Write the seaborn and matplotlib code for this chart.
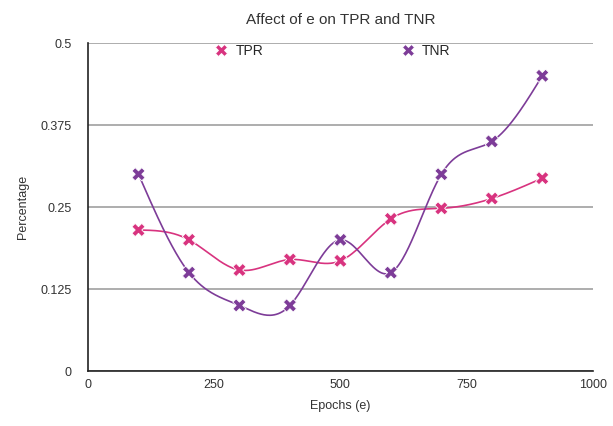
import numpy as np
import pandas as pd
import matplotlib
matplotlib.use("Agg")
import matplotlib.pyplot as plt
import seaborn as sns

epochs = [100, 200, 300, 400, 500, 600, 700, 800, 900]
tpr = [0.215, 0.200, 0.154, 0.170, 0.168, 0.232, 0.248, 0.263, 0.294]
tnr = [0.300, 0.150, 0.100, 0.100, 0.200, 0.150, 0.300, 0.350, 0.450]
series_names = ["TPR", "TNR"]
colors = {"TPR": "#d8337f", "TNR": "#7d3c98"}
x_ticks = [0, 250, 500, 750, 1000]
y_ticks = [0, 0.125, 0.25, 0.375, 0.5]
y_tick_labels = ["0", "0.125", "0.25", "0.375", "0.5"]


def natural_spline(x, y, n=400):
    x = np.asarray(x, float)
    y = np.asarray(y, float)
    k = len(x)
    h = np.diff(x)
    A = np.zeros((k, k))
    b = np.zeros(k)
    A[0, 0] = 1
    A[-1, -1] = 1
    for i in range(1, k - 1):
        A[i, i - 1] = h[i - 1]
        A[i, i] = 2 * (h[i - 1] + h[i])
        A[i, i + 1] = h[i]
        b[i] = 3 * ((y[i + 1] - y[i]) / h[i] - (y[i] - y[i - 1]) / h[i - 1])
    c = np.linalg.solve(A, b)
    xs = np.linspace(x[0], x[-1], n)
    ys = np.empty_like(xs)
    for j, xv in enumerate(xs):
        i = min(np.searchsorted(x, xv, side="right") - 1, k - 2)
        dx = xv - x[i]
        bi = (y[i + 1] - y[i]) / h[i] - h[i] * (2 * c[i] + c[i + 1]) / 3
        di = (c[i + 1] - c[i]) / (3 * h[i])
        ys[j] = y[i] + bi * dx + c[i] * dx ** 2 + di * dx ** 3
    return xs, ys


sns.set_style("white")
plt.rcParams["font.family"] = ["Liberation Sans", "DejaVu Sans"]

fig = plt.figure(figsize=(6.13, 4.26), dpi=100)
ax = fig.add_axes([0.1436, 0.129, 0.8234, 0.770])

df = pd.DataFrame({"Epochs": epochs * 2,
                   "value": tpr + tnr,
                   "series": ["TPR"] * len(epochs) + ["TNR"] * len(epochs)})

for name, vals in zip(series_names, [tpr, tnr]):
    xs, ys = natural_spline(epochs, vals)
    sns.lineplot(x=xs, y=ys, ax=ax, color=colors[name], lw=1.2, legend=False)

sns.scatterplot(data=df, x="Epochs", y="value", hue="series", palette=colors,
                marker="X", s=90, edgecolor="white", linewidth=0.6, ax=ax, zorder=5)

ax.set_xlim(0, 1000)
ax.set_ylim(0, 0.5)
ax.set_xticks(x_ticks)
ax.set_xticklabels([str(t) for t in x_ticks])
ax.set_yticks(y_ticks)
ax.set_yticklabels(y_tick_labels)
ax.yaxis.grid(True, color="#a0a0a0", lw=1.2)
ax.xaxis.grid(False)
for s in ["top", "right"]:
    ax.spines[s].set_visible(False)
for s in ["left", "bottom"]:
    ax.spines[s].set_color("#222222")
    ax.spines[s].set_linewidth(1.2)
ax.tick_params(axis="both", labelsize=9, colors="#333333", length=0, pad=12)
ax.tick_params(axis="x", pad=6)
ax.set_xlabel("Epochs (e)", fontsize=9, color="#333333", labelpad=6)
ax.set_ylabel("Percentage", fontsize=9, color="#333333", labelpad=8)
ax.set_title("Affect of e on TPR and TNR", fontsize=11, color="#333333", pad=14)

handles, labels = ax.get_legend_handles_labels()
ax.legend(handles, labels, loc="upper left", bbox_to_anchor=(0.212, 1.035), ncol=2,
          frameon=False, fontsize=10, columnspacing=9.4, handletextpad=0.0,
          markerscale=0.9)

fig.savefig("out.png", dpi=100)
